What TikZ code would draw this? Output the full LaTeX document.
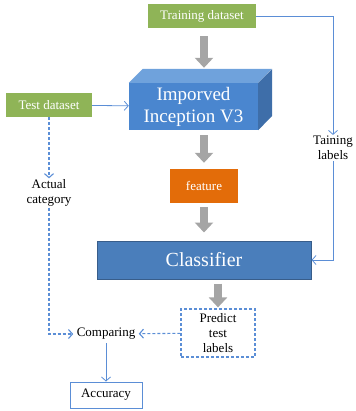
\documentclass[tikz,border=0pt]{standalone}
\usepackage{fontspec}
\setmainfont{Liberation Serif}
\usepackage{xcolor}
\usetikzlibrary{positioning, calc, arrows.meta}

\definecolor{boxgreen}{HTML}{8FB457}
\definecolor{boxblue}{HTML}{4A86CF}
\definecolor{topblue}{HTML}{6FA2DC}
\definecolor{sideblue}{HTML}{3E6EA9}
\definecolor{clsblue}{HTML}{4A7EBB}
\definecolor{clsedge}{HTML}{385D8A}
\definecolor{featorange}{HTML}{E36C09}
\definecolor{linkblue}{HTML}{5B8ED6}
\definecolor{arrowgray}{HTML}{A5A5A5}

\begin{document}
\begin{tikzpicture}[x=1pt, y=-1pt,
    small/.style={font=\fontsize{13}{15}\selectfont},
    greenbox/.style={small, fill=boxgreen, text=white, minimum height=24pt, inner xsep=4pt},
    link/.style={draw=linkblue, line width=0.8pt, -{Straight Barb[length=4pt,width=9pt]}},
    dlink/.style={link, line width=1.1pt, dash pattern=on 3pt off 2pt},
    bigarrow/.style={draw=arrowgray, line width=8pt, -{Triangle[length=10pt,width=18pt]}}]
        \useasboundingbox (0,0) rectangle (355,411);
        % input and network
        \node[greenbox, minimum width=108pt] (train) at (202,16) {Training dataset};
        \node[greenbox, minimum width=86pt] (test) at (49,105) {Test dataset};
        \node[fill=boxblue, minimum width=129pt, minimum height=47pt, align=center, text=white,
              font=\fontsize{19}{22}\selectfont] (net) at (193.5,106.5) {Imporved\\Inception V3};
        \fill[topblue] (net.north west) -- ++(14,-14) -- ++(129,0) -- (net.north east) -- cycle;
        \fill[sideblue] (net.north east) -- ++(14,-14) -- ++(0,47) -- (net.south east) -- cycle;
        \node[small, fill=featorange, text=white, minimum width=68pt, minimum height=34pt] (feat) at (204,186) {feature};
        \node[fill=clsblue, draw=clsedge, line width=1pt, text=white, minimum width=214pt, minimum height=38pt,
              font=\fontsize{20}{24}\selectfont] (cls) at (204,260) {Classifier};
        % outputs
        \node[small, draw=linkblue, dash pattern=on 3pt off 2pt, line width=1.2pt, align=center,
              minimum width=74pt, minimum height=48pt, inner sep=1pt] (pred) at (218,333) {Predict\\test\\labels};
        \node[small] (cmp) at (106,334) {Comparing};
        \node[small, draw=linkblue, line width=1pt, minimum width=72pt, minimum height=26pt] (acc) at (106,395) {Accuracy};
        \node[small, align=center, inner sep=1pt] (tlab) at (333,148) {Taining\\labels};
        \node[small, align=center, inner sep=1pt] (actual) at (49,193) {Actual\\category};
        % gray flow
        \draw[bigarrow, shorten <=8pt, shorten >=15pt] (train.south -| feat) -- (net.north -| feat);
        \draw[bigarrow, shorten <=5pt, shorten >=6pt] (net.south -| feat) -- (feat.north);
        \draw[bigarrow, shorten <=4pt, shorten >=8pt] (feat) -- (cls.north -| feat);
        \draw[bigarrow, shorten <=4pt, shorten >=1pt] (cls.south -| pred) -- (pred);
        % thin links
        \draw[link] (test) -- (net);
        \draw[link] (train.east) -| (tlab.north);
        \draw[link] (tlab.south) |- (cls.east);
        \draw[dlink] (test) -- (actual);
        \draw[dlink] (actual.south) |- (cmp.west);
        \draw[dlink] (pred) -- (cmp);
        \draw[link] (cmp) -- (acc);
    \end{tikzpicture}
\end{document}
